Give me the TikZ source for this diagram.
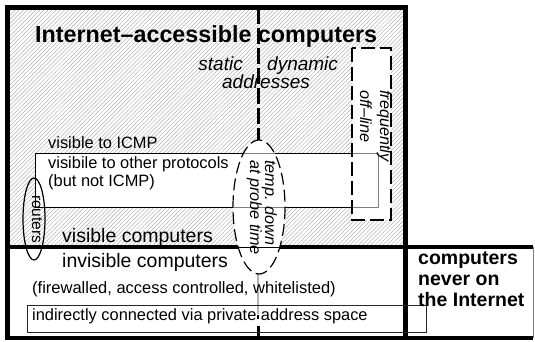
\documentclass[tikz,border=0pt]{standalone}
\usepackage{fontspec}
\setmainfont{Liberation Sans}
\usetikzlibrary{patterns.meta}
\begin{document}
\begin{tikzpicture}[x=1pt,y=-1pt,
  lbl/.style={inner sep=0pt, anchor=base west},
  fbig/.style={font=\fontsize{19.5}{21}\selectfont},
  fmid/.style={font=\fontsize{16.4}{19}\selectfont},
  fita/.style={font=\fontsize{19}{21}\selectfont\itshape},
  frot/.style={font=\fontsize{16.2}{19}\selectfont\itshape},
  fbold/.style={font=\fontsize{19.5}{21}\selectfont\bfseries},
  thickline/.style={line width=4.5pt},
  hatch/.style={pattern={Lines[angle=45,distance=2.9pt,line width=0.5pt]}, pattern color=gray!60},
  dashedbox/.style={line width=1.6pt, dash pattern=on 14pt off 5pt},
  dashedell/.style={line width=1.2pt, dash pattern=on 12pt off 5pt},
  thinbox/.style={line width=0.9pt}]
\useasboundingbox (0,0) rectangle (535,341);
\fill[white] (0,0) rectangle (535,341);
% hatched internet-accessible region
\fill[hatch] (7.5,7.5) rectangle (405.5,247);
% frequently off-line box fill
\fill[white] (352,48) rectangle (391,220);
% visible rectangle fill
\fill[white] (35,153) rectangle (378,207);
% visible rectangle lines
\draw[thinbox] (352,153) -- (35,153) -- (35,207) -- (352,207);
\draw[thinbox, gray] (352,153) -- (378,153) -- (378,207) -- (352,207);
% thick structure lines
\draw[thickline] (7.5,247) -- (533,247);
\draw[thickline] (405.5,7.5) -- (405.5,338);
% temp ellipse fill
\fill[white] (259,207) ellipse [x radius=26, y radius=67];
\begin{scope}
  \clip (259,207) ellipse [x radius=26, y radius=67];
  \draw[thinbox, gray] (200,153) -- (300,153);
  \draw[thinbox, gray] (200,207) -- (300,207);
  \draw[line width=1pt] (200,247) -- (300,247);
\end{scope}
% outer frame
\draw[thickline] (7.5,7.5) rectangle (405.5,338);
\draw[thickline] (405.5,338) -- (533,338);
\draw[line width=0.8pt, gray] (533,247) -- (533,338);
% dashed divider static / dynamic
\coordinate (dtop) at (258,7.5);
\coordinate (dmid) at (258,140);
\draw[line width=3pt, dash pattern=on 16pt off 4pt] (dtop) -- (dmid);
\draw[line width=1.2pt, gray!60] (258,273) -- (258,314);
\draw[line width=2pt] (258,315) -- (258,319);
\draw[line width=3pt] (258,326) -- (258,338);
% private address box
\draw[thinbox, black!85] (27,305) rectangle (426,332);
% dashed frequently off-line box
\draw[dashedbox] (352,48) rectangle (391,220);
% ellipses
\draw[dashedell] (259,207) ellipse [x radius=26, y radius=67];
\draw[line width=1.2pt] (34,219) ellipse [x radius=11, y radius=41];
% texts
\node[lbl, font=\fontsize{23.3}{26}\selectfont\bfseries] (title) at (35,42) {Internet–accessible computers};
\node[fita, inner sep=0pt, anchor=base east] (static) at (243,70) {static};
\node[fita, lbl] (dynamic) at (267,70) {dynamic};
\node[fita, inner sep=0pt, anchor=base] (addr) at (266,88) {addresses};
\node[lbl, fmid] (icmp) at (48,148) {visible to ICMP};
\node[lbl, fmid] (other) at (48,168) {visibile to other protocols};
\node[lbl, fmid] (noticmp) at (48,186) {(but not ICMP)};
\node[lbl, fbig] (vis) at (62,242) {visible computers};
\node[lbl, fbig] (invis) at (62,267) {invisible computers};
\node[lbl, font=\fontsize{16.5}{19}\selectfont] (fw) at (32,293) {(firewalled, access controlled, whitelisted)};
\node[lbl, fmid] (priv) at (32,320) {indirectly connected via private address space};
\node[lbl, fbold] (never1) at (418,264) {computers};
\node[lbl, fbold] (never2) at (418,285) {never on};
\node[lbl, fbold] (never3) at (418,306) {the Internet};
\node[lbl, frot, rotate=-90] (freq) at (380,90) {frequently};
\node[lbl, frot, rotate=-90] (offl) at (360,90) {off–line};
\node[lbl, frot, rotate=-90] (temp) at (265,160) {temp. down};
\node[lbl, frot, rotate=-90] (probe) at (250,160) {at probe time};
\node[lbl, font=\fontsize{15.5}{18}\selectfont, rotate=-90] (routers) at (32,195) {routers};
\end{tikzpicture}
\end{document}
